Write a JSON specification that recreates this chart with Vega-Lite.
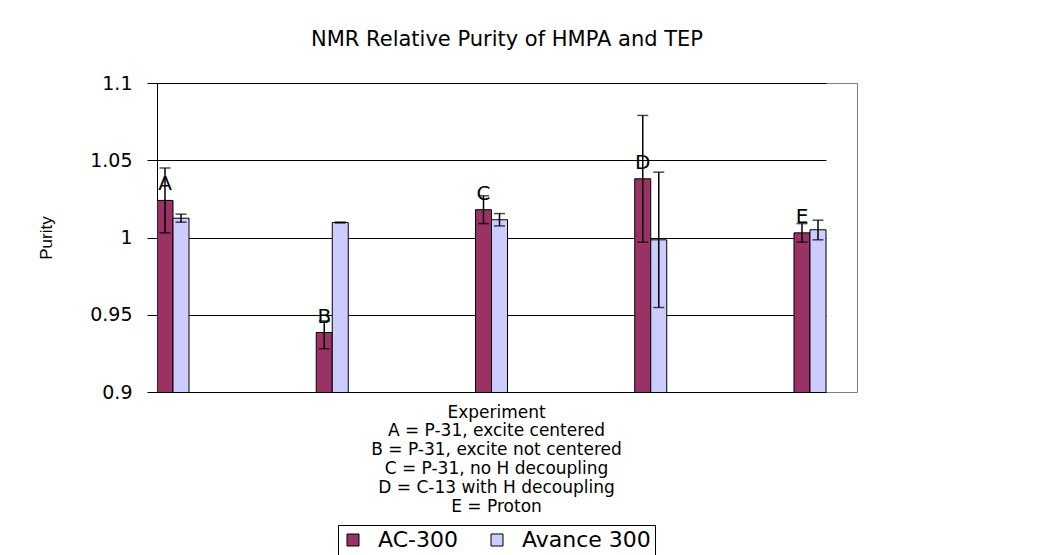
{
  "$schema": "https://vega.github.io/schema/vega-lite/v6.json",
  "width": 700,
  "height": 309,
  "autosize": {"type": "none"},
  "padding": {"left": 157, "top": 83, "right": 198, "bottom": 163},
  "background": "white",
  "config": {
    "view": {"stroke": "#808080", "strokeWidth": 1},
    "font": "DejaVu Sans"
  },
  "title": {
    "text": "NMR Relative Purity of HMPA and TEP",
    "font": "DejaVu Sans",
    "fontSize": 21,
    "fontWeight": "normal",
    "color": "black",
    "anchor": "middle",
    "offset": 24
  },
  "data": {
    "values": [
      {"exp": "A", "instrument": "AC-300", "value": 1.024, "lower": 1.003, "upper": 1.045},
      {"exp": "A", "instrument": "Avance 300", "value": 1.0125, "lower": 1.0099, "upper": 1.0151},
      {"exp": "B", "instrument": "AC-300", "value": 0.9385, "lower": 0.928, "upper": 0.946},
      {"exp": "B", "instrument": "Avance 300", "value": 1.0097, "lower": 1.0094, "upper": 1.0100},
      {"exp": "C", "instrument": "AC-300", "value": 1.018, "lower": 1.009, "upper": 1.027},
      {"exp": "C", "instrument": "Avance 300", "value": 1.0115, "lower": 1.0075, "upper": 1.0155},
      {"exp": "D", "instrument": "AC-300", "value": 1.038, "lower": 0.997, "upper": 1.079},
      {"exp": "D", "instrument": "Avance 300", "value": 0.9985, "lower": 0.9547, "upper": 1.0423},
      {"exp": "E", "instrument": "AC-300", "value": 1.003, "lower": 0.997, "upper": 1.009},
      {"exp": "E", "instrument": "Avance 300", "value": 1.005, "lower": 0.9985, "upper": 1.0112}
    ]
  },
  "encoding": {
    "x": {
      "field": "exp",
      "type": "nominal",
      "scale": {"domain": ["A", "B", "C", "D", "E"], "range": [0, 669], "paddingInner": 0.799, "paddingOuter": 0},
      "axis": {
        "labels": false,
        "ticks": false,
        "domain": false,
        "title": ["Experiment", "A = P-31, excite centered", "B = P-31, excite not centered", "C = P-31, no H decoupling", "D = C-13 with H decoupling", "E = Proton"],
        "titleFont": "DejaVu Sans",
        "titleFontSize": 17,
        "titleFontWeight": "normal",
        "titleColor": "black",
        "titleLineHeight": 18.8,
        "titleX": 339,
        "titleY": 12,
        "titleAlign": "center",
        "titleBaseline": "top"
      }
    },
    "xOffset": {
      "field": "instrument",
      "type": "nominal",
      "scale": {"domain": ["AC-300", "Avance 300"], "paddingInner": 0, "paddingOuter": 0}
    }
  },
  "layer": [
    {
      "mark": {"type": "bar", "stroke": "black", "strokeWidth": 1, "clip": true},
      "encoding": {
        "y": {
          "field": "value",
          "type": "quantitative",
          "scale": {"domain": [0.9, 1.1], "nice": false, "zero": false},
          "axis": {
            "title": "Purity",
            "values": [0.9, 0.95, 1, 1.05, 1.1],
            "format": "~g",
            "grid": true,
            "gridColor": "black",
            "gridWidth": 1,
            "gridOpacity": 1,
            "domainColor": "black",
            "tickColor": "black",
            "tickSize": 10,
            "labelFont": "DejaVu Sans",
            "labelFontSize": 19,
            "labelColor": "black",
            "labelPadding": 15,
            "labelOverlap": false,
            "labelFlush": false,
            "titleFont": "Liberation Sans",
            "titleFontSize": 17,
            "titleFontWeight": "normal",
            "titleColor": "black",
            "titleX": -111,
            "titleY": 154.5,
            "titleAngle": 270,
            "titleAlign": "center",
            "titleBaseline": "middle"
          }
        },
        "color": {
          "field": "instrument",
          "type": "nominal",
          "scale": {"domain": ["AC-300", "Avance 300"], "range": ["#993366", "#CCCCFF"]},
          "legend": {
            "orient": "none",
            "legendX": 181,
            "legendY": 442,
            "direction": "horizontal",
            "title": null,
            "strokeColor": "black",
            "fillColor": "white",
            "padding": 4,
            "labelFont": "DejaVu Sans",
            "labelFontSize": 22,
            "labelColor": "black",
            "symbolType": "square",
            "symbolSize": 144,
            "symbolStrokeColor": "black",
            "symbolStrokeWidth": 1,
            "symbolOpacity": 1,
            "labelOffset": 14,
            "columnPadding": 28
          }
        }
      }
    },
    {
      "mark": {"type": "rule", "color": "black", "strokeWidth": 1.5},
      "encoding": {
        "y": {"field": "lower", "type": "quantitative"},
        "y2": {"field": "upper"}
      }
    },
    {
      "mark": {"type": "tick", "color": "black", "orient": "horizontal", "size": 11, "thickness": 1.5},
      "encoding": {
        "y": {"field": "lower", "type": "quantitative"}
      }
    },
    {
      "mark": {"type": "tick", "color": "black", "orient": "horizontal", "size": 11, "thickness": 1.5},
      "encoding": {
        "y": {"field": "upper", "type": "quantitative"}
      }
    },
    {
      "transform": [{"filter": "datum.instrument === 'AC-300'"}],
      "mark": {"type": "text", "font": "DejaVu Sans", "fontSize": 20, "color": "black", "baseline": "middle", "dy": -16},
      "encoding": {
        "y": {"field": "value", "type": "quantitative"},
        "text": {"field": "exp"}
      }
    }
  ]
}
